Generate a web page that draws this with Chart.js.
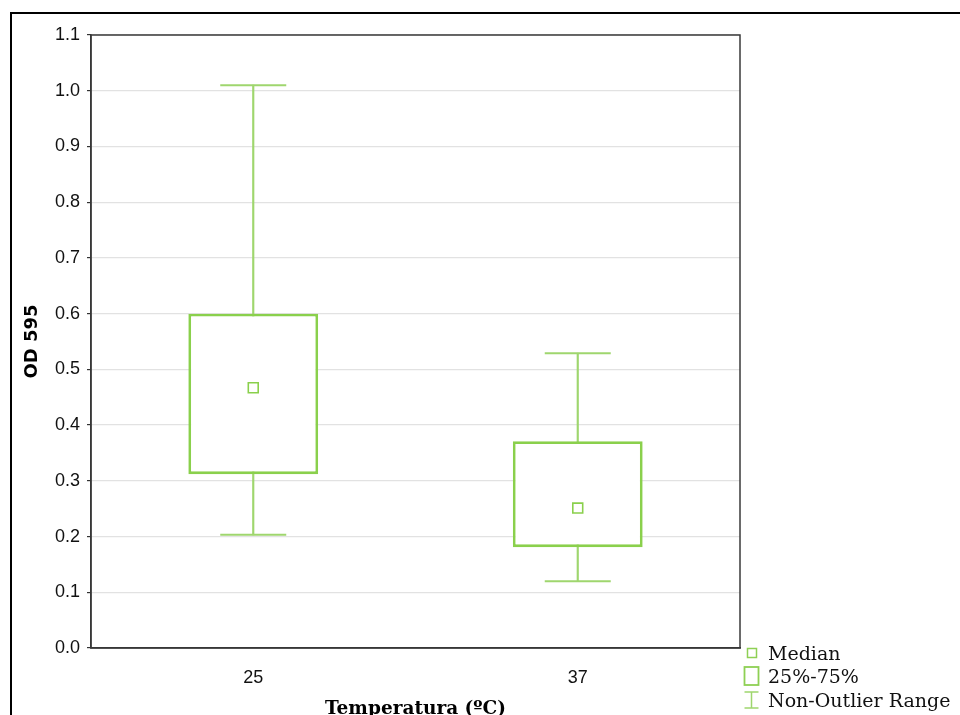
<!DOCTYPE html>
<html lang="en">
<head>
<meta charset="UTF-8">
<title>OD 595 vs Temperatura</title>
<script src="https://cdn.jsdelivr.net/npm/chart.js@4.4.1/dist/chart.umd.min.js"></script>
<style>
    body { margin: 0; background: #fff; }
    #wrap { position: relative; width: 960px; height: 715px; overflow: hidden; }
    #frame { position: absolute; left: 10px; top: 12px; right: -5px; bottom: -5px;
             border-left: 2px solid #000; border-top: 2px solid #000; pointer-events: none; }
    #leyenda { position: absolute; left: 743px; top: 641px; font: 19px 'DejaVu Serif', serif; color: #111; }
    #leyenda div { height: 23.5px; display: flex; align-items: center; }
    #leyenda svg { width: 17px; height: 20px; margin-right: 8px; }
</style>
</head>
<body>
<div id="wrap">
    <canvas id="grafico" width="960" height="715"></canvas>
    <div id="frame"></div>
    <div id="leyenda">
        <div><svg viewBox="0 0 17 20"><rect x="4.5" y="5.5" width="9" height="9" fill="none" stroke="#8ed054" stroke-width="1.5"/></svg>Median</div>
        <div><svg viewBox="0 0 17 20"><rect x="1.5" y="1" width="14" height="18" fill="none" stroke="#8ed054" stroke-width="1.8"/></svg>25%-75%</div>
        <div><svg viewBox="0 0 17 20"><path d="M1.5 2H15.5M8.5 2V18M1.5 18H15.5" fill="none" stroke="#9fd66e" stroke-width="1.5"/></svg>Non-Outlier Range</div>
    </div>
</div>

<script>
// temperaturas y resumen de OD 595 por grupo
var temperaturas = ['25', '37'];
var minimo = [0.203, 0.120];
var q1 = [0.312, 0.181];
var mediana = [0.467, 0.251];
var q3 = [0.600, 0.371];
var maximo = [1.010, 0.529];
var marcasY = [0, 0.1, 0.2, 0.3, 0.4, 0.5, 0.6, 0.7, 0.8, 0.9, 1.0, 1.1];

var verde = '#8ad04c';
var verdeBigote = '#9fd66e';

// marco del area de trazado
var marco = {
    id: 'marco',
    afterDraw: function(chart) {
        var a = chart.chartArea, ctx = chart.ctx;
        ctx.save();
        ctx.strokeStyle = '#3a3a3a';
        ctx.lineWidth = 1.5;
        ctx.strokeRect(a.left, a.top, a.right - a.left, a.bottom - a.top);
        ctx.restore();
    }
};

var ctx = document.getElementById('grafico').getContext('2d');
var chart = new Chart(ctx, {
    type: 'bar',
    data: {
        labels: temperaturas,
        datasets: [
            {   // caja 25%-75%
                label: '25%-75%',
                data: temperaturas.map(function(_, i) { return [q1[i], q3[i]]; }),
                backgroundColor: '#ffffff',
                borderColor: verde,
                borderWidth: 2.8,
                borderSkipped: false,
                barPercentage: 0.4,
                categoryPercentage: 1,
                grouped: false,
                order: 2
            },
            {   // bigote vertical
                label: 'rango',
                data: temperaturas.map(function(_, i) { return [minimo[i], maximo[i]]; }),
                backgroundColor: verdeBigote,
                borderWidth: 0,
                barThickness: 1.5,
                grouped: false,
                order: 3
            },
            {
                type: 'line',
                label: 'max',
                data: maximo,
                showLine: false,
                pointStyle: 'line',
                pointRadius: 33,
                pointBorderColor: verdeBigote,
                pointBorderWidth: 2,
                order: 1
            },
            {
                type: 'line',
                label: 'min',
                data: minimo,
                showLine: false,
                pointStyle: 'line',
                pointRadius: 33,
                pointBorderColor: verdeBigote,
                pointBorderWidth: 2,
                order: 1
            },
            {
                type: 'line',
                label: 'Median',
                data: mediana,
                showLine: false,
                pointStyle: 'rect',
                pointRadius: 7,
                pointBackgroundColor: '#ffffff',
                pointBorderColor: verde,
                pointBorderWidth: 1.6,
                order: 0
            }
        ]
    },
    options: {
        responsive: false,
        animation: false,
        events: [],
        layout: { padding: { left: 0, top: 35, right: 220, bottom: 0 } },
        plugins: { legend: { display: false }, tooltip: { enabled: false } },
        scales: {
            x: {
                afterFit: function(axis) { axis.height = 67; },
                grid: { display: false },
                border: { color: '#333', width: 1.5 },
                ticks: { color: '#111', padding: 11, font: { family: 'Liberation Sans', size: 18 } },
                title: {
                    display: true,
                    text: 'Temperatura (ºC)',
                    color: '#000',
                    padding: { top: 0, bottom: -3 },
                    font: { family: 'DejaVu Serif', size: 18.5, weight: 'bold', lineHeight: 1 }
                }
            },
            y: {
                min: 0,
                max: 1.1,
                afterFit: function(axis) { axis.width = 91; },
                afterBuildTicks: function(axis) {
                    axis.ticks = marcasY.map(function(v) { return { value: v }; });
                },
                grid: { color: '#e2e2e2', lineWidth: 1.2, tickLength: 4, tickColor: '#333' },
                border: { color: '#333', width: 1.5 },
                ticks: {
                    color: '#111',
                    padding: 7,
                    font: { family: 'Liberation Sans', size: 18 },
                    callback: function(v) { return Number(v).toFixed(1); }
                },
                title: {
                    display: true,
                    text: 'OD 595',
                    color: '#000',
                    padding: { top: 23, bottom: 0 },
                    font: { family: 'DejaVu Sans', size: 18, weight: 'bold', lineHeight: 1 }
                }
            }
        }
    },
    plugins: [marco]
});
</script>
</body>
</html>
